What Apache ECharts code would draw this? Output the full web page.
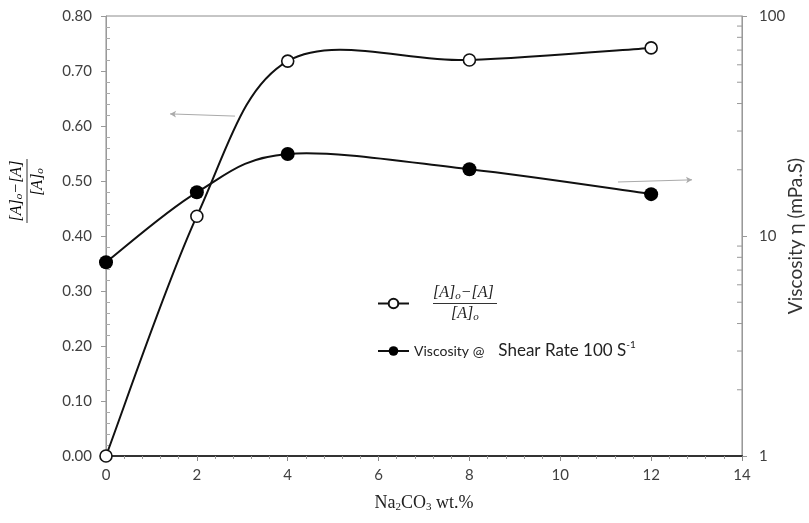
<!DOCTYPE html>
<html>
<head>
<meta charset="utf-8">
<script src="https://cdn.jsdelivr.net/npm/echarts@6/dist/echarts.min.js"></script>
<style>html,body{margin:0;padding:0;background:#fff}#c{width:809px;height:523px}</style>
</head>
<body>
<div id="c"></div>
<script>
// ---- data ----
var xValues = [0, 2, 4, 8, 12];
var conversion = [0.00, 0.436, 0.718, 0.720, 0.742];
var viscosity = [7.6, 15.8, 23.6, 20.1, 15.5];
var rightMinorTicks = [2, 3, 4, 5, 6, 7, 8, 9, 20, 30, 40, 50, 60, 70, 80, 90];
var arrowLeft = [[2.84, 0.618], [1.41, 0.622]];
var arrowRight = [[11.27, 17.6], [12.9, 18.0]];

var chart = echarts.init(document.getElementById('c'), null, {renderer: 'canvas'});

var serif = 'Liberation Serif';
var sans = 'Lato';
var fracRich = {
  n: {fontFamily: serif, fontStyle: 'italic', fontSize: 16, color: '#222', lineHeight: 17},
  s: {fontFamily: serif, fontStyle: 'italic', fontSize: 11, color: '#222', verticalAlign: 'bottom', lineHeight: 17},
  bar: {width: 64, height: 1, backgroundColor: '#333', lineHeight: 4, fontSize: 1},
  sp: {width: 18, fontSize: 1},
  pad: {width: 19, fontSize: 1}
};

// Excel-like smoothed curve (Catmull-Rom -> Bezier), computed in pixel space via api.coord
function smoothCurve(ys, color) {
  return function (params, api) {
    var pts = xValues.map(function (x, i) { return api.coord([x, ys[i]]); });
    var n = pts.length, children = [];
    for (var i = 0; i < n - 1; i++) {
      var p0 = pts[Math.max(i - 1, 0)], p1 = pts[i], p2 = pts[i + 1], p3 = pts[Math.min(i + 2, n - 1)];
      children.push({
        type: 'bezierCurve',
        shape: {
          x1: p1[0], y1: p1[1], x2: p2[0], y2: p2[1],
          cpx1: p1[0] + (p2[0] - p0[0]) / 6, cpy1: p1[1] + (p2[1] - p0[1]) / 6,
          cpx2: p2[0] - (p3[0] - p1[0]) / 6, cpy2: p2[1] - (p3[1] - p1[1]) / 6
        },
        style: {stroke: color, lineWidth: 2, fill: null}
      });
    }
    return {type: 'group', children: children};
  };
}

var option = {
  animation: false,
  backgroundColor: '#fff',
  grid: {left: 106, right: 67, top: 16, bottom: 67, containLabel: false, outerBoundsMode: 'none',
    show: true, borderColor: '#8c8c8c', borderWidth: 1},
  legend: [
    {
      data: ['conv'], orient: 'vertical', left: 372, top: 280, itemWidth: 31, itemHeight: 12,
      lineStyle: {color: '#111', width: 2, opacity: 1, type: 'solid'},
      formatter: function () {
        return '{pad| }{n|[A]}{s|o}{n|−[A]}\n{pad| }{bar| }\n{pad| }{sp| }{n|[A]}{s|o}';
      },
      textStyle: {rich: fracRich}
    },
    {
      data: ['visc'], orient: 'vertical', left: 372, top: 335, itemWidth: 31, itemHeight: 12,
      lineStyle: {color: '#111', width: 2, opacity: 1, type: 'solid'},
      formatter: function () {
        return '{a|Viscosity @}{g| }{b|Shear Rate 100 S}{sup|-1}';
      },
      textStyle: {
        rich: {
          a: {fontFamily: sans, fontSize: 14, color: '#222'},
          g: {width: 14, fontSize: 1},
          b: {fontFamily: sans, fontSize: 17, color: '#222'},
          sup: {fontFamily: sans, fontSize: 10, color: '#222', verticalAlign: 'top', lineHeight: 22}
        }
      }
    }
  ],
  xAxis: {
    type: 'value', min: 0, max: 14, interval: 2,
    axisLine: {show: true, onZero: false, lineStyle: {color: '#333', width: 2}},
    axisTick: {show: true, length: 5, lineStyle: {color: '#888'}},
    minorTick: {show: true, splitNumber: 5, length: 3, lineStyle: {color: '#999'}},
    splitLine: {show: false},
    axisLabel: {fontFamily: sans, fontSize: 15, color: '#404040', margin: 12},
    name: '{a|Na}{s|2}{a|CO}{s|3}{a| wt.%}',
    nameLocation: 'middle', nameGap: 37, nameMoveOverlap: false,
    nameTextStyle: {
      rich: {
        a: {fontFamily: serif, fontSize: 18, color: '#222', lineHeight: 20},
        s: {fontFamily: serif, fontSize: 11, color: '#222', verticalAlign: 'bottom', lineHeight: 20}
      }
    }
  },
  yAxis: [
    {
      type: 'value', min: 0, max: 0.8, interval: 0.1, position: 'left',
      axisLine: {show: true, lineStyle: {color: '#999', width: 1}},
      axisTick: {show: true, length: 5, lineStyle: {color: '#999'}},
      splitLine: {show: false},
      axisLabel: {fontFamily: sans, fontSize: 15, color: '#404040', margin: 14,
        formatter: function (v) { return v.toFixed(2); }}
    },
    {
      type: 'log', logBase: 10, min: 1, max: 100, position: 'right',
      axisLine: {show: true, lineStyle: {color: '#999', width: 1}},
      axisTick: {show: true, length: 5, lineStyle: {color: '#999'}},
      splitLine: {show: false},
      axisLabel: {fontFamily: sans, fontSize: 15, color: '#404040', margin: 17},
      name: 'Viscosity η (mPa.S)', nameLocation: 'middle', nameGap: 44, nameRotate: 90,
      nameMoveOverlap: false,
      nameTextStyle: {fontFamily: sans, fontSize: 19, color: '#333'}
    },
    {
      type: 'value', min: 0, max: 0.8, interval: 0.1, position: 'left',
      axisLine: {show: false},
      axisTick: {show: false, inside: true},
      minorTick: {show: true, splitNumber: 5, length: 4, lineStyle: {color: '#aaa'}},
      splitLine: {show: false},
      axisLabel: {show: false}
    }
  ],
  graphic: [
    {
      type: 'text', x: 27, y: 191, rotation: Math.PI / 2,
      style: {
        text: '{n|[A]}{s|o}{n|−[A]}\n{bar| }\n{sp| }{n|[A]}{s|o}',
        rich: fracRich, align: 'center', verticalAlign: 'middle'
      }
    }
  ],
  series: [
    {
      name: 'convCurve', type: 'custom', yAxisIndex: 0, silent: true,
      data: [[0, 0]], renderItem: smoothCurve(conversion, '#111')
    },
    {
      name: 'viscCurve', type: 'custom', yAxisIndex: 1, silent: true,
      data: [[0, 10]], renderItem: smoothCurve(viscosity, '#111')
    },
    {
      name: 'conv', type: 'line', yAxisIndex: 0,
      data: xValues.map(function (x, i) { return [x, conversion[i]]; }),
      symbol: 'circle', symbolSize: 12,
      itemStyle: {color: '#fff', borderColor: '#111', borderWidth: 1.6},
      lineStyle: {color: '#111', width: 2, opacity: 0},
      markLine: {
        silent: true, symbol: ['none', 'arrow'], symbolSize: [5, 6],
        label: {show: false},
        lineStyle: {color: '#aaa', width: 1, type: 'solid', opacity: 1},
        data: [[{coord: arrowLeft[0]}, {coord: arrowLeft[1]}]]
      }
    },
    {
      name: 'visc', type: 'line', yAxisIndex: 1,
      data: xValues.map(function (x, i) { return [x, viscosity[i]]; }),
      symbol: 'circle', symbolSize: 14,
      itemStyle: {color: '#000', borderColor: '#000', borderWidth: 0},
      lineStyle: {color: '#111', width: 2, opacity: 0},
      markLine: {
        silent: true, symbol: ['none', 'arrow'], symbolSize: [5, 6],
        label: {show: false},
        lineStyle: {color: '#aaa', width: 1, type: 'solid', opacity: 1},
        data: [[{coord: arrowRight[0]}, {coord: arrowRight[1]}]]
      }
    },
    {
      name: 'rminor', type: 'custom', yAxisIndex: 1, silent: true, clip: false,
      data: rightMinorTicks.map(function (v) { return [14, v]; }),
      renderItem: function (params, api) {
        var p = api.coord([api.value(0), api.value(1)]);
        return {type: 'line', shape: {x1: p[0] - 5, y1: p[1], x2: p[0], y2: p[1]},
          style: {stroke: '#999', lineWidth: 1}};
      }
    }
  ]
};
chart.setOption(option);
</script>
</body>
</html>
